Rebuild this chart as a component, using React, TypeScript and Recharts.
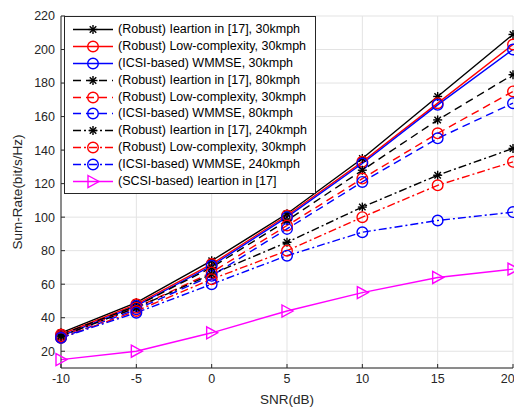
import React from 'react'
import {
  LineChart,
  Line,
  XAxis,
  YAxis,
  CartesianGrid,
} from 'recharts'

const snr = [-10, -5, 0, 5, 10, 15, 20]
const yTicks = [20, 40, 60, 80, 100, 120, 140, 160, 180, 200, 220]

const robust30 = [31, 49, 74, 102, 135, 172, 209]
const lowc30 = [30, 48, 72, 101, 133, 168, 203]
const icsi30 = [29, 47, 71, 100, 132, 167, 200]
const robust80 = [30, 47, 70, 98, 128, 158, 185]
const lowc80 = [29, 46, 67, 95, 123, 150, 175]
const icsi80 = [28, 45, 65, 93, 121, 147, 168]
const robust240 = [29, 46, 66, 85, 106, 125, 141]
const lowc240 = [28, 44, 63, 80, 100, 119, 133]
const icsi240 = [28, 43, 60, 77, 91, 98, 103]
const scsi = [15, 20, 31, 44, 55, 64, 69]

type Marker = 'star' | 'circle' | 'tri'

const series: { key: string; name: string; values: number[]; color: string; dash?: string; marker: Marker }[] = [
  { key: 'r30', name: '(Robust) Ieartion in [17], 30kmph', values: robust30, color: '#000000', marker: 'star' },
  { key: 'l30', name: '(Robust) Low-complexity, 30kmph', values: lowc30, color: '#ff0000', marker: 'circle' },
  { key: 'i30', name: '(ICSI-based) WMMSE, 30kmph', values: icsi30, color: '#0000ff', marker: 'circle' },
  { key: 'r80', name: '(Robust) Ieartion in [17], 80kmph', values: robust80, color: '#000000', dash: '8 5', marker: 'star' },
  { key: 'l80', name: '(Robust) Low-complexity, 30kmph', values: lowc80, color: '#ff0000', dash: '8 5', marker: 'circle' },
  { key: 'i80', name: '(ICSI-based) WMMSE, 80kmph', values: icsi80, color: '#0000ff', dash: '8 5', marker: 'circle' },
  { key: 'r240', name: '(Robust) Ieartion in [17], 240kmph', values: robust240, color: '#000000', dash: '8 3 2 3', marker: 'star' },
  { key: 'l240', name: '(Robust) Low-complexity, 30kmph', values: lowc240, color: '#ff0000', dash: '8 3 2 3', marker: 'circle' },
  { key: 'i240', name: '(ICSI-based) WMMSE, 240kmph', values: icsi240, color: '#0000ff', dash: '8 3 2 3', marker: 'circle' },
  { key: 'scsi', name: '(SCSI-based) Ieartion in [17]', values: scsi, color: '#ff00ff', marker: 'tri' },
]

const data = snr.map((x, i) => {
  const row: Record<string, number> = { snr: x }
  series.forEach((s) => {
    row[s.key] = s.values[i]
  })
  return row
})

const FONT = 'Liberation Sans, Arial, sans-serif'
const AXIS = '#262626'

function drawMarker(marker: Marker, cx: number, cy: number, color: string, key?: string) {
  if (marker === 'star') {
    const r = 4.5
    const d = r * 0.72
    return (
      <g key={key} stroke={color} strokeWidth={1.4}>
        <line x1={cx - r} y1={cy} x2={cx + r} y2={cy} />
        <line x1={cx} y1={cy - r} x2={cx} y2={cy + r} />
        <line x1={cx - d} y1={cy - d} x2={cx + d} y2={cy + d} />
        <line x1={cx - d} y1={cy + d} x2={cx + d} y2={cy - d} />
      </g>
    )
  }
  if (marker === 'circle') {
    return <circle key={key} cx={cx} cy={cy} r={5.3} fill="none" stroke={color} strokeWidth={1.4} />
  }
  return (
    <polygon
      key={key}
      points={`${cx - 5},${cy - 6} ${cx + 6},${cy} ${cx - 5},${cy + 6}`}
      fill="none"
      stroke={color}
      strokeWidth={1.4}
    />
  )
}

function LegendBox() {
  return (
    <div
      style={{
        position: 'absolute',
        left: 64,
        top: 16,
        border: '1px solid #262626',
        background: '#fff',
        padding: '4px 8px 3px 7px',
        fontFamily: FONT,
        fontSize: 12.5,
        color: '#000',
        lineHeight: '16.9px',
      }}
    >
      {series.map((s) => (
        <div key={s.key} style={{ display: 'flex', alignItems: 'center', whiteSpace: 'nowrap', height: 16.9 }}>
          <svg width={44} height={15} style={{ marginRight: 2, flex: 'none' }}>
            <line x1={1} y1={7.5} x2={41} y2={7.5} stroke={s.color} strokeWidth={1.4} strokeDasharray={s.dash} />
            {drawMarker(s.marker, 21, 7.5, s.color)}
          </svg>
          <span>{s.name}</span>
        </div>
      ))}
    </div>
  )
}

export default function App() {
  return (
    <div style={{ position: 'absolute', left: 0, top: 0, width: 514, height: 412, background: '#fff' }}>
      <LineChart width={514} height={412} data={data} margin={{ top: 16, right: 1, bottom: 0, left: 0 }}>
        <CartesianGrid stroke="#e3e3e3" strokeWidth={1} />
        <XAxis
          dataKey="snr"
          type="number"
          domain={[-10, 20]}
          ticks={snr}
          height={44}
          tickSize={-4}
          tickLine={{ stroke: AXIS }}
          axisLine={{ stroke: AXIS }}
          tick={{ fontSize: 12.5, fill: AXIS, fontFamily: FONT }}
          tickMargin={10}
          label={{ value: 'SNR(dB)', position: 'insideBottom', offset: 8, fontSize: 13.5, fill: AXIS, fontFamily: FONT }}
        />
        <YAxis
          type="number"
          domain={[10, 220]}
          ticks={yTicks}
          width={61}
          tickSize={-4}
          tickLine={{ stroke: AXIS }}
          axisLine={{ stroke: AXIS }}
          tick={{ fontSize: 12.5, fill: AXIS, fontFamily: FONT }}
          tickMargin={10}
          interval={0}
          allowDataOverflow
          label={{
            value: 'Sum-Rate(bit/s/Hz)',
            angle: -90,
            position: 'insideLeft',
            offset: 17,
            style: { textAnchor: 'middle', fontSize: 13.5, fill: AXIS, fontFamily: FONT },
          }}
        />
        <XAxis
          xAxisId="top"
          orientation="top"
          dataKey="snr"
          type="number"
          domain={[-10, 20]}
          ticks={snr}
          height={0}
          tick={false}
          tickSize={-4}
          tickLine={{ stroke: AXIS }}
          axisLine={{ stroke: AXIS }}
        />
        <YAxis
          yAxisId="right"
          orientation="right"
          domain={[10, 220]}
          ticks={yTicks}
          interval={0}
          width={0}
          tick={false}
          tickSize={-4}
          tickLine={{ stroke: AXIS }}
          axisLine={{ stroke: AXIS }}
        />
        {series.map((s) => (
          <Line
            key={s.key}
            dataKey={s.key}
            name={s.name}
            stroke={s.color}
            strokeWidth={1.4}
            strokeDasharray={s.dash}
            isAnimationActive={false}
            dot={(p: any) => drawMarker(s.marker, p.cx, p.cy, s.color, `${s.key}-${p.index}`)}
            activeDot={false}
          />
        ))}
      </LineChart>
      <LegendBox />
    </div>
  )
}
